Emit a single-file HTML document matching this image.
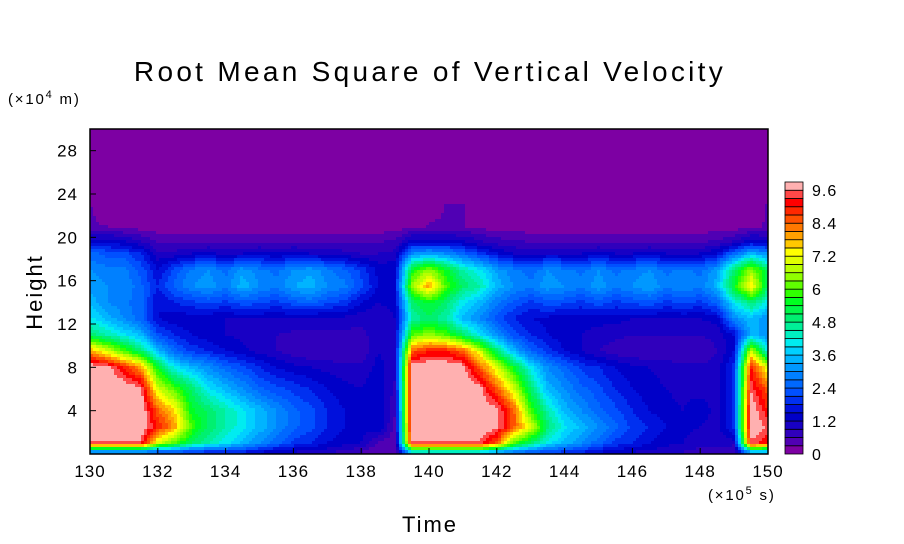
<!DOCTYPE html>
<html><head><meta charset="utf-8">
<style>
html,body{margin:0;padding:0;background:#fff;}
svg{display:block;font-family:"Liberation Sans",sans-serif;}
</style></head>
<body>
<svg id="chart" width="904" height="544" viewBox="0 0 904 544">
<text x="430" y="81" font-size="28" letter-spacing="3.3" text-anchor="middle">Root Mean Square of Vertical Velocity</text>
<text x="8" y="104" font-size="15" letter-spacing="1.8">(×10<tspan font-size="11" dy="-6">4</tspan><tspan dy="6"> m)</tspan></text>
<text x="708" y="500" font-size="15" letter-spacing="1.8">(×10<tspan font-size="11" dy="-6">5</tspan><tspan dy="6"> s)</tspan></text>
<text x="430" y="532" font-size="22" letter-spacing="2" text-anchor="middle">Time</text>
<text x="0" y="0" font-size="22" letter-spacing="2" text-anchor="middle" transform="translate(42,292) rotate(-90)">Height</text>
<g id="field"></g>
<rect x="90" y="129" width="678" height="325" fill="none" stroke="#000" stroke-width="1.5"/>
<g id="xticks"></g>
<g id="yticks"></g>
<g id="cbar"></g>
</svg>
<script>
const times = [130,130.5,131,131.5,132,132.5,133,133.5,134,134.5,135,135.5,136,136.5,137,137.5,138,138.5,139,139.5,140,140.5,141,141.5,142,142.5,143,143.5,144,144.5,145,145.5,146,146.5,147,147.5,148,148.5,149,149.5,150];
const heights = [0.2,1,2.5,4,6,8,9.5,11,12.5,14,15.5,17,18.5,19.5,21,23,25,30];
const rmsRows = [
[3,3,3,3,2.5,2.5,2,2,2,1.8,1.5,1.3,1.2,1.1,1,0.8,0.6,0.3,0.3,4,4,4,4,4,3.5,2.8,2.5,2.2,2,1.8,1.5,1.3,1.2,1.1,1,0.9,0.8,0.8,0.6,3.5,3.5],
[9.5,9.5,9.5,9.5,7,6,5,4.5,4,3.5,3,2.5,2,1.8,1.5,1.3,1.2,0.5,0.4,9.5,9.5,9.5,9.5,9.5,8.5,6,5,4,3.5,3,2.5,2,1.8,1.5,1.3,1.2,1,1,1,9.5,9],
[10,10,10,10,9,8,6,5,4.5,4,3.5,3,2.5,2.2,1.8,1.5,1.3,1.5,0.5,10,10,10,10,10,9.8,8.5,7,5,4,3.5,3,2.5,2,1.8,1.5,1.3,1.2,1,2,10,9.5],
[10,10,10,10,8.5,7.5,5.5,5,4.5,4,3.5,3,2.5,2.2,1.8,1.5,1.3,1.5,0.6,10,10,10,10,10,9.8,8.5,6,4.5,3.5,3,2.5,2.2,1.8,1.5,1.3,1.2,1.5,1,2,10,9],
[10,10,10,9.7,7,6,5,4,3.5,3,2.5,2.2,2,1.8,1.5,1.3,1.2,1.5,0.8,10,10,10,10,9.8,8.5,7,5,3.5,3,2.5,2.2,1.8,1.5,1.3,1.2,1.1,1,1,2,9.5,8.5],
[10,9.8,9,8,5.5,4,3.5,3,2.5,2.2,1.8,1.5,1.3,1.2,1.1,1,1,1.3,1,10,10,10,9.8,8.5,7,5.5,4,3,2.5,2,1.8,1.5,1.3,1.2,1.1,1,1,1,2,9,7],
[8,7,6,5,3.5,2.5,2,1.8,1.5,1.3,1.1,0.9,0.7,0.6,0.6,0.6,0.6,1.2,1.1,8.5,9,9,8.5,7,5,3.5,2.5,2,1.5,1.2,0.9,0.7,0.6,0.6,0.6,0.6,0.6,0.9,1.5,7,4],
[5,4.5,4,3.5,2.2,1.8,1.5,1.3,1.2,1.1,1,0.9,0.8,0.8,0.8,0.8,0.8,1.1,1.2,6,6.5,6,5,4,3,2.2,1.8,1.5,1.3,1.2,1.1,1,0.9,0.9,0.9,0.9,0.9,1,1.5,3.5,3],
[4,3.5,3,2.5,1.5,1.3,1.3,1.2,1.2,1.2,1.2,1.2,1.2,1.1,1.1,1.1,1,1,1.2,4.5,5,4.5,3.5,3,2.2,1.8,1.5,1.4,1.3,1.3,1.3,1.3,1.2,1.2,1.2,1.2,1.2,1.3,3,3.5,3],
[3.5,3,2.8,2.5,1.5,1.8,2,2.2,2,2.3,2.2,2,2.3,2.5,2.2,2,1.5,1.2,1.3,5,5.5,5,4,3.5,2.8,2.3,2,2.3,2.2,2,2.3,2,2.2,2.3,2,2.2,2,2.5,4,5,4],
[3.2,3,3,2.5,1.8,2.5,3,3.2,2.8,3.5,3,2.8,3.3,3.5,3,2.8,2.2,1.5,1.5,6.5,8,6,5,4.5,3.5,3,2.8,3.2,3,2.8,3.2,2.8,3,3.3,2.8,3,2.8,3.5,5.5,7.5,5],
[3,2.8,2.8,2.3,1.5,2.2,2.8,3,2.6,3.2,2.8,2.6,3,3.2,2.8,2.5,2,1.4,1.4,5.5,6.5,5.5,4.5,4,3.2,2.8,2.5,3,2.8,2.6,3,2.6,2.8,3,2.6,2.8,2.6,3.2,5,6.5,5],
[2.5,2.3,2.2,1.8,1,1,1.2,1.3,1.1,1.2,1.3,1.2,1.3,1.2,1.1,1,0.9,0.9,1,3,3.2,3,2.5,2,1.5,1.2,1.1,1.2,1.2,1.2,1.3,1.2,1.2,1.3,1.2,1.2,1.2,1.5,2.5,3.5,3],
[1.5,1.5,1.3,1,0.6,0.6,0.6,0.6,0.6,0.6,0.6,0.6,0.6,0.6,0.6,0.6,0.6,0.6,0.7,1.5,1.5,1.5,1.3,1,0.8,0.7,0.6,0.6,0.6,0.6,0.6,0.6,0.6,0.6,0.6,0.6,0.6,0.7,1,1.5,1.3],
[0.35,0.3,0.2,0.1,0.1,0.1,0.1,0.1,0.1,0.1,0.1,0.1,0.1,0.1,0.1,0.1,0.1,0.1,0.1,0.2,0.32,0.32,0.32,0.2,0.1,0.1,0.1,0.1,0.1,0.1,0.1,0.1,0.1,0.1,0.1,0.1,0.1,0.1,0.1,0.2,0.35],
[0.31,0.1,0,0,0,0,0,0,0,0,0,0,0,0,0,0,0,0,0,0,0.2,0.31,0.31,0.1,0,0,0,0,0,0,0,0,0,0,0,0,0,0,0,0.1,0.32],
[0,0,0,0,0,0,0,0,0,0,0,0,0,0,0,0,0,0,0,0,0,0,0,0,0,0,0,0,0,0,0,0,0,0,0,0,0,0,0,0,0.2],
[0,0,0,0,0,0,0,0,0,0,0,0,0,0,0,0,0,0,0,0,0,0,0,0,0,0,0,0,0,0,0,0,0,0,0,0,0,0,0,0,0]
];
const xTickLabels = ["130","132","134","136","138","140","142","144","146","148","150"];
const yTickLabels = ["4","8","12","16","20","24","28"];
const cbarLabels = ["0","1.2","2.4","3.6","4.8","6","7.2","8.4","9.6"];
const levelStep = 0.3;

const palette = ["#7d00a3","#5000b4","#3000bc","#1800c4","#0000c8","#0010dc","#0030f0","#0050ff","#0068ff","#0080ff","#0098ff","#00b4ff","#00d0ff","#00ecf0","#00f0c0","#00f098","#00f070","#00f848","#00ff20","#30ff00","#60ff00","#90ff00","#b8ff00","#e0ff00","#ffff00","#ffc800","#ffa000","#ff7800","#ff5000","#ff2800","#ff0000","#ff4848","#ffb0b0"];
const NS="http://www.w3.org/2000/svg";
const X0=90,X1=768,Y0=454,Y1=129;
function xScale(t){return X0+(t-130)/(150-130)*(X1-X0);}
function yScale(h){return Y0-(h/30)*(Y0-Y1);}
function colorOf(v){let i=Math.floor(v/levelStep);if(i<0)i=0;if(i>palette.length-1)i=palette.length-1;return palette[i];}
function sample(t,h){
  let i=0;while(i<times.length-2&&t>times[i+1])i++;
  let j=0;while(j<heights.length-2&&h>heights[j+1])j++;
  let fx=(t-times[i])/(times[i+1]-times[i]);fx=Math.max(0,Math.min(1,fx));
  let fy=(h-heights[j])/(heights[j+1]-heights[j]);fy=Math.max(0,Math.min(1,fy));
  const a=rmsRows[j][i],b=rmsRows[j][i+1],c=rmsRows[j+1][i],d=rmsRows[j+1][i+1];
  return (a*(1-fx)+b*fx)*(1-fy)+(c*(1-fx)+d*fx)*fy;
}
const field=document.getElementById('field');
const px=3,py=3;
for(let y=Y1;y<Y0;y+=py){
  const h=30*(Y0-(y+py/2))/(Y0-Y1);
  let runStart=X0,runCol=null;
  for(let x=X0;x<=X1;x+=px){
    let col=null;
    if(x<X1){const t=130+(x+px/2-X0)/(X1-X0)*20;col=colorOf(sample(t,h));}
    if(col!==runCol){
      if(runCol!==null){
        const r=document.createElementNS(NS,'rect');
        r.setAttribute('x',runStart);r.setAttribute('y',y);
        r.setAttribute('width',Math.min(x,X1)-runStart);r.setAttribute('height',Math.min(py,Y0-y)+0.3);
        r.setAttribute('fill',runCol);
        
        
        field.appendChild(r);
      }
      runStart=x;runCol=col;
    }
  }
}
const xt=document.getElementById('xticks');
xTickLabels.forEach(l=>{
  const x=xScale(parseFloat(l));
  const tk=document.createElementNS(NS,'line');
  tk.setAttribute('x1',x);tk.setAttribute('x2',x);tk.setAttribute('y1',Y0);tk.setAttribute('y2',Y0-6);tk.setAttribute('stroke','#000');
  
  
  xt.appendChild(tk);
  const tx=document.createElementNS(NS,'text');
  tx.setAttribute('x',x);tx.setAttribute('y',477);tx.setAttribute('font-size','17');tx.setAttribute('letter-spacing','1');tx.setAttribute('text-anchor','middle');
  tx.textContent=l;
  
  
  xt.appendChild(tx);
});
const yt=document.getElementById('yticks');
yTickLabels.forEach(l=>{
  const y=yScale(parseFloat(l));
  const tk=document.createElementNS(NS,'line');
  tk.setAttribute('x1',X0);tk.setAttribute('x2',X0+6);tk.setAttribute('y1',y);tk.setAttribute('y2',y);tk.setAttribute('stroke','#000');
  
  
  yt.appendChild(tk);
  const tx=document.createElementNS(NS,'text');
  tx.setAttribute('x',78);tx.setAttribute('y',y+6);tx.setAttribute('font-size','17');tx.setAttribute('letter-spacing','1');tx.setAttribute('text-anchor','end');
  tx.textContent=l;
  
  
  yt.appendChild(tx);
});
const cb=document.getElementById('cbar');
const CB0=454,CB1=182,CBX=785,CBW=18;
const bandH=(CB0-CB1)/palette.length;
palette.forEach((c,i)=>{
  const r=document.createElementNS(NS,'rect');
  r.setAttribute('x',CBX);r.setAttribute('y',CB0-(i+1)*bandH);r.setAttribute('width',CBW);r.setAttribute('height',bandH);
  r.setAttribute('fill',c);r.setAttribute('stroke','#000');r.setAttribute('stroke-width','0.8');
  
  
  cb.appendChild(r);
});
const cbPerUnit=bandH/levelStep;
cbarLabels.forEach(l=>{
  const y=CB0-parseFloat(l)*cbPerUnit;
  const tx=document.createElementNS(NS,'text');
  tx.setAttribute('x',812);tx.setAttribute('y',y+6);tx.setAttribute('font-size','16');tx.setAttribute('letter-spacing','1');
  tx.textContent=l;
  
  
  cb.appendChild(tx);
});
</script>
</body></html>
